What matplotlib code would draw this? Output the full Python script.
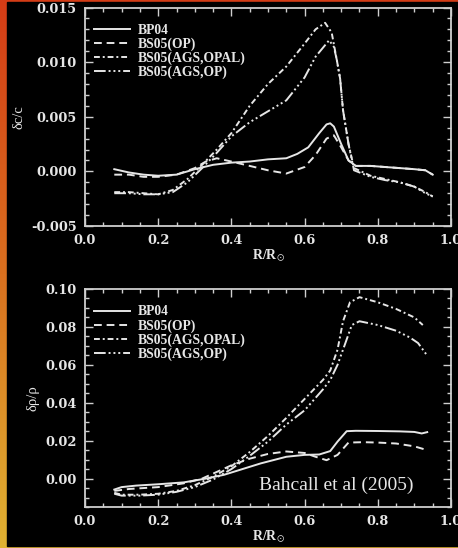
import numpy as np
import matplotlib
matplotlib.use('Agg')
import matplotlib.pyplot as plt
from matplotlib.colors import LinearSegmentedColormap
from matplotlib.ticker import MultipleLocator

plt.rcParams['mathtext.fontset'] = 'stix'

# --- data ---
labels = ['BP04', 'BS05(OP)', 'BS05(AGS,OPAL)', 'BS05(AGS,OP)']

# sound speed, top panel
c_bp04_x = [0.08, 0.12, 0.16, 0.20, 0.25, 0.30, 0.35, 0.40, 0.45, 0.50, 0.55, 0.58, 0.61, 0.64,
            0.66, 0.67, 0.68, 0.70, 0.72, 0.74, 0.78, 0.82, 0.86, 0.90, 0.93, 0.95]
c_bp04_y = [0.0002, -0.0001, -0.0003, -0.0004, -0.0003, 0.0002, 0.0006, 0.0008, 0.0009, 0.0011,
            0.0012, 0.0016, 0.0022, 0.0035, 0.0043, 0.0044, 0.0041, 0.0025, 0.0010, 0.0005,
            0.0005, 0.0004, 0.0003, 0.0002, 0.0001, -0.0003]

c_op_x = [0.08, 0.12, 0.16, 0.20, 0.25, 0.30, 0.33, 0.36, 0.40, 0.45, 0.50, 0.55, 0.60, 0.63,
          0.66, 0.68, 0.70, 0.72, 0.74, 0.78, 0.82, 0.86, 0.90, 0.93, 0.95]
c_op_y = [-0.0003, -0.0003, -0.0005, -0.0005, -0.0003, 0.0003, 0.0009, 0.0012, 0.0009, 0.0005,
          0.0001, -0.0002, 0.0004, 0.0015, 0.0030, 0.0033, 0.0022, 0.0010, 0.0005, 0.0005,
          0.0004, 0.0003, 0.0002, 0.0001, -0.0003]

c_opal_x = [0.08, 0.12, 0.16, 0.20, 0.24, 0.28, 0.32, 0.36, 0.40, 0.45, 0.50, 0.55, 0.60, 0.63,
            0.656, 0.674, 0.688, 0.697, 0.705, 0.72, 0.735, 0.78, 0.82, 0.86, 0.90, 0.93, 0.95]
c_opal_y = [-0.0019, -0.0019, -0.0020, -0.0021, -0.0017, -0.0007, 0.0006, 0.0020, 0.0035, 0.0060,
            0.0080, 0.0096, 0.0117, 0.0130, 0.0136, 0.0127, 0.0102, 0.0085, 0.0056, 0.0025,
            0.0003, -0.0004, -0.0007, -0.0010, -0.0014, -0.0019, -0.0023]

c_agsop_x = [0.08, 0.12, 0.16, 0.20, 0.24, 0.28, 0.32, 0.36, 0.40, 0.45, 0.50, 0.55, 0.60, 0.63,
             0.667, 0.68, 0.688, 0.697, 0.705, 0.72, 0.735, 0.78, 0.82, 0.86, 0.90, 0.93, 0.95]
c_agsop_y = [-0.0020, -0.0020, -0.0021, -0.0021, -0.0019, -0.0010, 0.0003, 0.0017, 0.0032, 0.0045,
             0.0055, 0.0065, 0.0086, 0.0105, 0.0120, 0.0114, 0.0102, 0.0085, 0.0056, 0.0025,
             0.0001, -0.0005, -0.0008, -0.0010, -0.0014, -0.0020, -0.0023]

# density, bottom panel
r_bp04_x = [0.08, 0.10, 0.14, 0.20, 0.27, 0.33, 0.38, 0.43, 0.48, 0.55, 0.60, 0.64, 0.67, 0.69,
            0.715, 0.74, 0.80, 0.86, 0.90, 0.92, 0.935]
r_bp04_y = [-0.0058, -0.0045, -0.0037, -0.0030, -0.0020, 0.0000, 0.0020, 0.0050, 0.0080, 0.0115,
            0.0125, 0.0127, 0.0145, 0.0195, 0.0250, 0.0252, 0.0251, 0.0249, 0.0246, 0.0238, 0.0245]

r_op_x = [0.08, 0.12, 0.20, 0.27, 0.32, 0.36, 0.40, 0.45, 0.50, 0.55, 0.60, 0.63, 0.66, 0.69,
          0.72, 0.76, 0.80, 0.85, 0.90, 0.935]
r_op_y = [-0.0065, -0.0055, -0.0045, -0.0025, 0.0000, 0.0035, 0.0070, 0.0105, 0.0130, 0.0143,
          0.0135, 0.0115, 0.0097, 0.0125, 0.0190, 0.0192, 0.0190, 0.0185, 0.0170, 0.0150]

r_opal_x = [0.08, 0.10, 0.15, 0.20, 0.25, 0.30, 0.35, 0.40, 0.45, 0.50, 0.55, 0.60, 0.65, 0.67,
            0.69, 0.705, 0.724, 0.75, 0.80, 0.85, 0.90, 0.923]
r_opal_y = [-0.0075, -0.0085, -0.0085, -0.0080, -0.0065, -0.0035, 0.0010, 0.0065, 0.0140, 0.0225,
            0.0320, 0.0420, 0.0520, 0.0570, 0.0680, 0.0830, 0.0930, 0.0957, 0.0930, 0.0895,
            0.0850, 0.0810]

r_agsop_x = [0.08, 0.10, 0.15, 0.20, 0.25, 0.30, 0.35, 0.40, 0.45, 0.50, 0.55, 0.60, 0.65, 0.67,
             0.69, 0.71, 0.729, 0.75, 0.80, 0.85, 0.888, 0.91, 0.933]
r_agsop_y = [-0.0080, -0.0090, -0.0090, -0.0085, -0.0070, -0.0045, -0.0005, 0.0050, 0.0120, 0.0195,
             0.0285, 0.0360, 0.0470, 0.0520, 0.0600, 0.0707, 0.0810, 0.0830, 0.0810, 0.0780,
             0.0744, 0.0715, 0.0654]

FG = '#e6e6e6'
dash_styles = ['-', (0, (4, 2.5)), (0, (3, 1.5, 1, 1.5)), (0, (6, 1.5, 1, 1.5, 1, 1.5, 1, 1.5))]

fig = plt.figure(figsize=(4.58, 5.48), dpi=100)
fig.patch.set_facecolor('black')

# orange frame on the left / top / bottom
bg = fig.add_axes([0, 0, 1, 1], zorder=-2)
grad = np.linspace(0, 1, 256).reshape(-1, 1)
cmap = LinearSegmentedColormap.from_list('frame', ['#d43c16', '#d9701f', '#e0b232'])
bg.imshow(grad, aspect='auto', cmap=cmap, extent=[0, 1, 0, 1], origin='upper')
bg.add_patch(plt.Rectangle((7 / 458, 2 / 548), 1, 1 - 4 / 548, color='black'))
bg.set_xlim(0, 1)
bg.set_ylim(0, 1)
bg.axis('off')


def style_axes(ax, ylim, ymajor, yminor, ylabel, fmt):
    ax.set_facecolor('black')
    ax.set_xlim(0, 1)
    ax.set_ylim(*ylim)
    ax.xaxis.set_major_locator(MultipleLocator(0.2))
    ax.xaxis.set_minor_locator(MultipleLocator(0.05))
    ax.yaxis.set_major_locator(MultipleLocator(ymajor))
    ax.yaxis.set_minor_locator(MultipleLocator(yminor))
    ax.yaxis.set_major_formatter(plt.FormatStrFormatter(fmt))
    ax.xaxis.set_major_formatter(plt.FormatStrFormatter('%.1f'))
    ax.tick_params(which='both', direction='in', top=True, right=True, colors='#cfcfcf',
                   labelcolor=FG, width=1.0)
    ax.tick_params(which='major', length=6, pad=6)
    ax.tick_params(which='minor', length=3)
    for lab in ax.get_xticklabels() + ax.get_yticklabels():
        lab.set_fontfamily('DejaVu Serif')
        lab.set_fontweight('bold')
        lab.set_fontsize(9.3)
    for s in ax.spines.values():
        s.set_color('#cfcfcf')
        s.set_linewidth(1.3)
    ax.set_xlabel(r'R/R$_{\odot}$', color=FG, fontsize=10, family='Liberation Serif',
                  fontweight='bold', labelpad=0)
    ax.set_ylabel(ylabel, color=FG, fontsize=10.5, family='Liberation Serif', labelpad=4)


def draw_lines(ax, series):
    for (x, y), ls, lab in zip(series, dash_styles, labels):
        ax.plot(x, y, color=FG, lw=1.4, linestyle=ls, label=lab)
    leg = ax.legend(loc='upper left', bbox_to_anchor=(0.025, 0.925), frameon=False,
                    handlelength=2.6, handletextpad=0.6, labelspacing=0.05,
                    borderaxespad=0, borderpad=0,
                    prop={'family': 'Liberation Serif', 'weight': 'bold', 'size': 9.8})
    for t in leg.get_texts():
        t.set_color(FG)


ax1 = fig.add_axes([0.1856, 0.5876, 0.7991, 0.3987])
draw_lines(ax1, [(c_bp04_x, c_bp04_y), (c_op_x, c_op_y),
                 (c_opal_x, c_opal_y), (c_agsop_x, c_agsop_y)])
style_axes(ax1, (-0.005, 0.015), 0.005, 0.001, 'δc/c', '%.3f')

ax2 = fig.add_axes([0.1856, 0.0748, 0.7991, 0.3978])
draw_lines(ax2, [(r_bp04_x, r_bp04_y), (r_op_x, r_op_y),
                 (r_opal_x, r_opal_y), (r_agsop_x, r_agsop_y)])
style_axes(ax2, (-0.015, 0.10), 0.02, 0.005, 'δρ/ρ', '%.2f')

ax2.text(0.475, 0.10, 'Bahcall et al (2005)', transform=ax2.transAxes, color=FG,
         family='Liberation Serif', fontsize=14, va='center', ha='left')

fig.savefig('out.png', dpi=100, facecolor=fig.get_facecolor())
